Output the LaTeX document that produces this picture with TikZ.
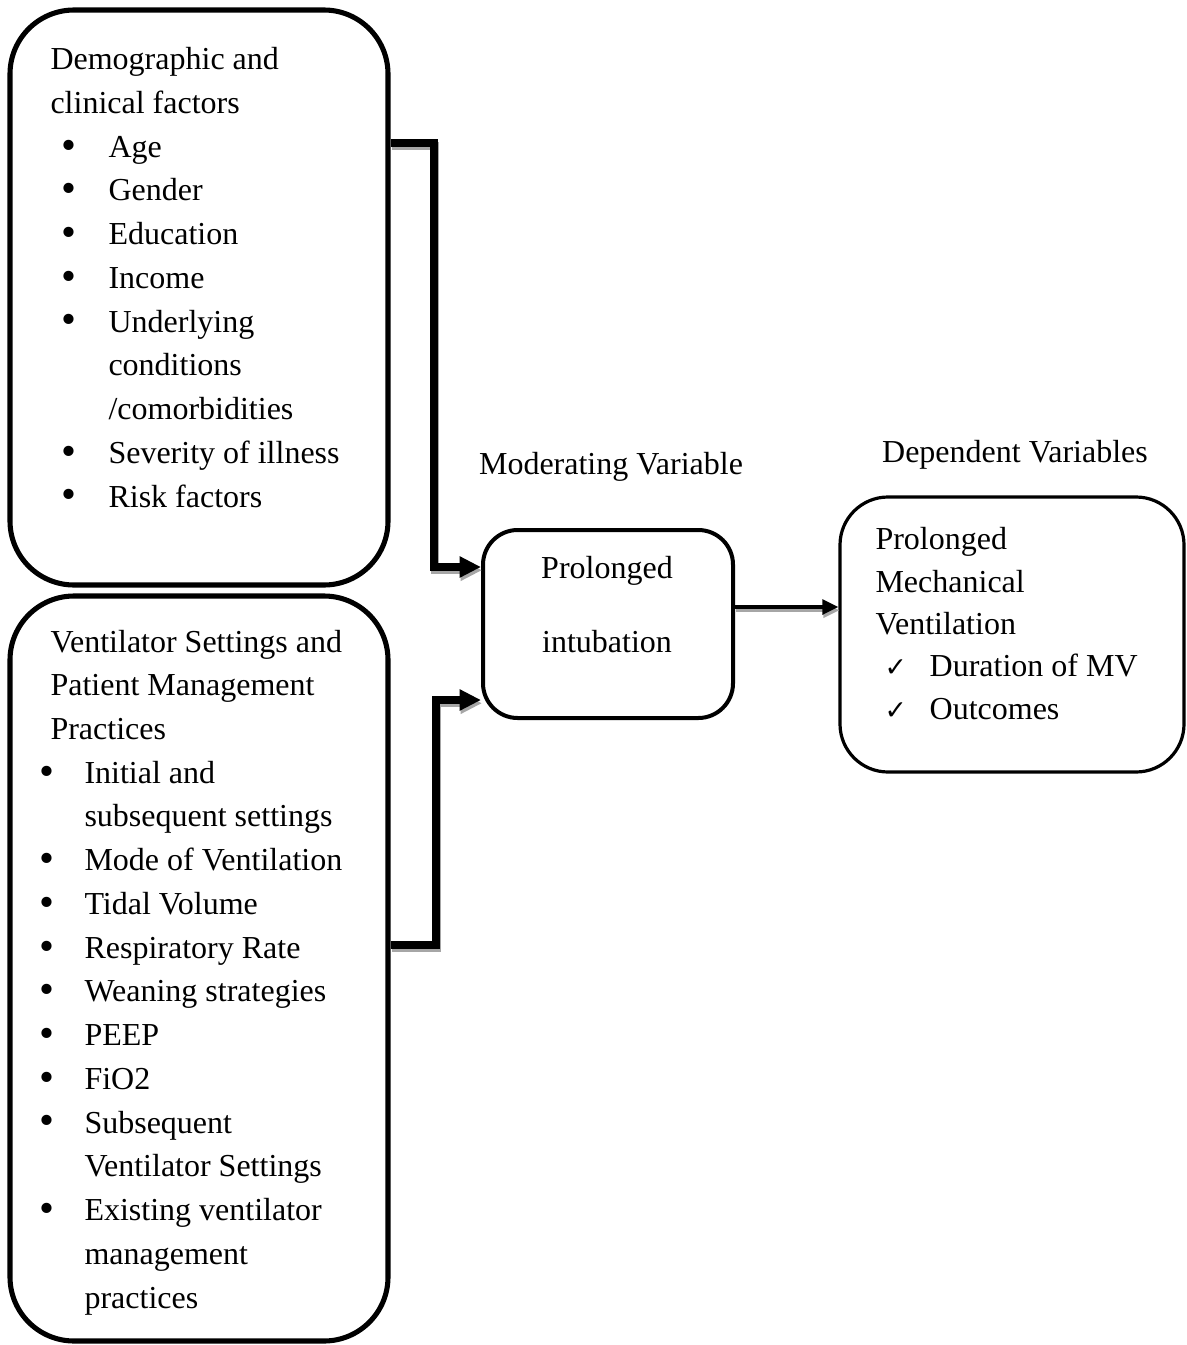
\documentclass[tikz,border=0pt]{standalone}
\usepackage{fontspec}
\setmainfont{Liberation Serif}
\newfontfamily\symfont{DejaVu Sans}
\usetikzlibrary{arrows.meta, positioning, fit}
\tikzstyle{panel} = [draw, rounded corners=24pt, line width=1.9pt, inner sep=0pt]
\tikzstyle{txt} = [align=left, inner sep=0pt, font=\fontsize{12}{16.4}\selectfont]
\tikzstyle{link} = [line width=3pt, -{Triangle[length=8pt,width=7.5pt]}]
\tikzstyle{thin link} = [line width=1.4pt, -{Triangle[length=6pt,width=5.5pt]}]
\tikzstyle{shade} = [black!35, transform canvas={shift={(0.4pt,-1.2pt)}}]
\newcommand{\bul}[1]{\makebox[#1][l]{\raisebox{-0.7pt}{\fontsize{16}{16}\selectfont\textbullet}}}
\newcommand{\chk}{\makebox[16.9pt][l]{\symfont\fontsize{10}{10}\selectfont ✓}}

\begin{document}
\begin{tikzpicture}[x=0.375pt, y=-0.375pt]
    \useasboundingbox (0,0) rectangle (1187,1345);
    % boxes
    \node [panel, fit={(10,10) (388,585)}] (demo) {};
    \node [panel, fit={(10,596) (388,1341)}] (vent) {};
    \node [panel, rounded corners=13pt, line width=1.5pt, fit={(483,530) (733,718)}] (mod) {};
    \node [panel, rounded corners=18pt, line width=1.2pt, fit={(840,497) (1184,772)}] (dep) {};
    % headings above the boxes
    \node [txt] (modlbl) at (611,467) {Moderating Variable};
    \node [txt] (deplbl) at (1015,455) {Dependent Variables};
    % box texts (base = last line)
    \node [txt, anchor=base west] (demotxt) at (50,507) {Demographic and\\clinical factors\\
        \hspace*{4pt}\bul{17.75pt}Age\\
        \hspace*{4pt}\bul{17.75pt}Gender\\
        \hspace*{4pt}\bul{17.75pt}Education\\
        \hspace*{4pt}\bul{17.75pt}Income\\
        \hspace*{4pt}\bul{17.75pt}Underlying\\
        \hspace*{21.75pt}conditions\\
        \hspace*{21.75pt}/comorbidities\\
        \hspace*{4pt}\bul{17.75pt}Severity of illness\\
        \hspace*{4pt}\bul{17.75pt}Risk factors};
    \node [txt, anchor=base west] (venttxt) at (50,1308) {Ventilator Settings and\\Patient Management\\Practices\\
        \hspace*{-4pt}\bul{16.75pt}Initial and\\
        \hspace*{12.75pt}subsequent settings\\
        \hspace*{-4pt}\bul{16.75pt}Mode of Ventilation\\
        \hspace*{-4pt}\bul{16.75pt}Tidal Volume\\
        \hspace*{-4pt}\bul{16.75pt}Respiratory Rate\\
        \hspace*{-4pt}\bul{16.75pt}Weaning strategies\\
        \hspace*{-4pt}\bul{16.75pt}PEEP\\
        \hspace*{-4pt}\bul{16.75pt}FiO2\\
        \hspace*{-4pt}\bul{16.75pt}Subsequent\\
        \hspace*{12.75pt}Ventilator Settings\\
        \hspace*{-4pt}\bul{16.75pt}Existing ventilator\\
        \hspace*{12.75pt}management\\
        \hspace*{12.75pt}practices};
    \node [txt, align=center, anchor=base, font=\fontsize{12}{27.4}\selectfont] (modtxt) at (607,652) {Prolonged\\intubation};
    \node [txt, anchor=base west, font=\fontsize{12}{15.85}\selectfont] (deptxt) at (875,719) {Prolonged\\Mechanical\\Ventilation\\
        \hspace*{3.4pt}\chk Duration of MV\\
        \hspace*{3.4pt}\chk Outcomes};
    % connectors, shadow first
    \draw [link, shade] (demo.east |- 0,143) -| (434,567) -- (mod.west |- 0,567);
    \draw [link] (demo.east |- 0,143) -| (434,567) -- (mod.west |- 0,567);
    \draw [link, shade] (vent.east |- 0,945) -| (436,700) -- (mod.west |- 0,700);
    \draw [link] (vent.east |- 0,945) -| (436,700) -- (mod.west |- 0,700);
    \draw [thin link, shade] (mod.east |- 0,607) -- (dep.west |- 0,607);
    \draw [thin link] (mod.east |- 0,607) -- (dep.west |- 0,607);
\end{tikzpicture}
\end{document}
